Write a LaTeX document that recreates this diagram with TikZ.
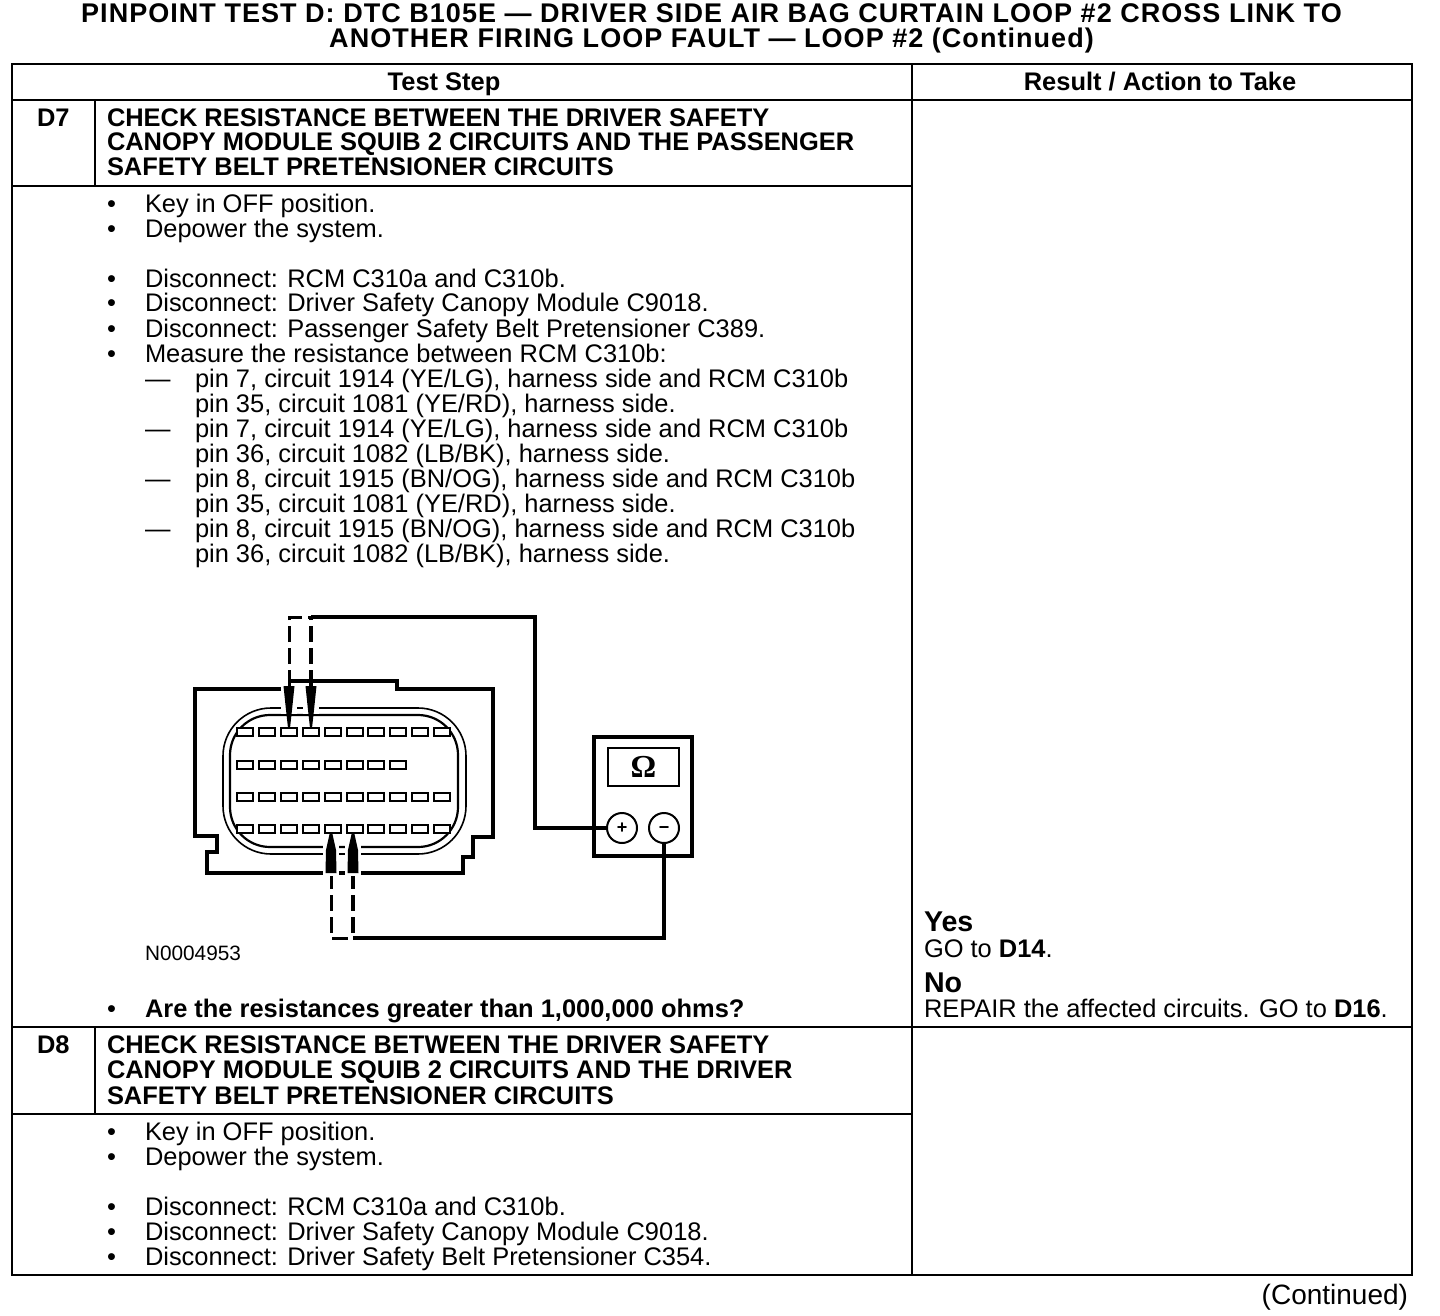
\documentclass[tikz,border=0pt]{standalone}
\usepackage{fontspec}
\setmainfont{Liberation Sans}
\newfontfamily\omegafont{Liberation Serif}
\newfontfamily\ttlfont[LetterSpace=3.85]{Liberation Sans}
\newcommand{\tl}[4]{\node[txt] (#1) at (#2,#3) {#4};}
\newcommand{\bl}[4]{\node[txt] (#1b) at (107,#3) {•}; \node[txt] (#1) at (#2,#3) {#4};}
\newcommand{\dl}[3]{\node[txt] (#1d) at (145,#2) {—}; \node[txt] (#1) at (195,#2) {#3};}
\begin{document}
\begin{tikzpicture}[x=0.5pt,y=-0.5pt,
 txt/.style={anchor=base west,inner sep=0,outer sep=0,font=\fontsize{12.72}{14}\selectfont},
 hd/.style={txt,font=\fontsize{12.72}{14}\selectfont\bfseries},
 ttl/.style={anchor=base,inner sep=0,font=\ttlfont\fontsize{13.5}{14}\selectfont\bfseries},
 big/.style={txt,font=\fontsize{14.3}{14}\selectfont\bfseries},
 grid/.style={line width=1pt,black},
 wire/.style={line width=1.6pt,black},
 dwire/.style={line width=1.5pt,black,dash pattern=on 8pt off 3pt},
 dwireb/.style={line width=2pt,black,dash pattern=on 8pt off 3pt},
 ring/.style={line width=0.8pt,black},
 slot/.style={line width=1pt,black,fill=white},
 term/.style={circle,draw=black,line width=1pt,fill=white,minimum size=15pt,inner sep=0,font=\fontsize{9}{9}\selectfont\bfseries}]
\useasboundingbox (0,0) rectangle (1440,1316);
\fill[white] (0,0) rectangle (1440,1316);
% table
\draw[grid] (12,64) rectangle (1412,1275);
\draw[grid] (12,100) -- (1412,100);
\draw[grid] (912,64) -- (912,1275);
\draw[grid] (95,100) -- (95,186);
\draw[grid] (12,186) -- (912,186);
\draw[grid] (12,1027) -- (1412,1027);
\draw[grid] (95,1027) -- (95,1114);
\draw[grid] (12,1114) -- (912,1114);
% title
\node[ttl] (t1) at (711.5,23) {PINPOINT TEST D: DTC B105E — DRIVER SIDE AIR BAG CURTAIN LOOP \#2 CROSS LINK TO};
\node[ttl] (t2) at (711.5,48) {ANOTHER FIRING LOOP FAULT — LOOP \#2 (Continued)};
\node[hd,anchor=base] (h1) at (444,91) {Test Step};
\node[hd,anchor=base] (h2) at (1160,91) {Result / Action to Take};
% D7
\node[hd] (d7) at (37,127) {D7};
\node[hd] (d7a) at (107,127) {CHECK RESISTANCE BETWEEN THE DRIVER SAFETY};
\node[hd] (d7b) at (107,151) {CANOPY MODULE SQUIB 2 CIRCUITS AND THE PASSENGER};
\node[hd] (d7c) at (107,176) {SAFETY BELT PRETENSIONER CIRCUITS};
\bl{a1}{145}{213}{Key in OFF position.}
\bl{a2}{145}{238}{Depower the system.}
\bl{a3}{145}{287}{Disconnect: RCM C310a and C310b.}
\bl{a4}{145}{312}{Disconnect: Driver Safety Canopy Module C9018.}
\bl{a5}{145}{337}{Disconnect: Passenger Safety Belt Pretensioner C389.}
\bl{a6}{145}{362}{Measure the resistance between RCM C310b:}
\dl{m1}{387}{pin 7, circuit 1914 (YE/LG), harness side and RCM C310b}
\tl{m1x}{195}{412}{pin 35, circuit 1081 (YE/RD), harness side.}
\dl{m2}{437}{pin 7, circuit 1914 (YE/LG), harness side and RCM C310b}
\tl{m2x}{195}{462}{pin 36, circuit 1082 (LB/BK), harness side.}
\dl{m3}{487}{pin 8, circuit 1915 (BN/OG), harness side and RCM C310b}
\tl{m3x}{195}{512}{pin 35, circuit 1081 (YE/RD), harness side.}
\dl{m4}{537}{pin 8, circuit 1915 (BN/OG), harness side and RCM C310b}
\tl{m4x}{195}{562}{pin 36, circuit 1082 (LB/BK), harness side.}
\node[txt,font=\fontsize{10.4}{12}\selectfont] (code) at (145,960) {N0004953};
\node[txt] (qb) at (107,1017) {•};
\node[hd] (q) at (145,1017) {Are the resistances greater than 1,000,000 ohms?};
\node[big] (yes) at (924,931) {Yes};
\node[txt] (go1) at (924,957) {GO to \textbf{D14}.};
\node[big] (no) at (924,992) {No};
\node[txt] (rep) at (924,1017) {REPAIR the affected circuits. GO to \textbf{D16}.};
% D8
\node[hd] (d8) at (37,1053) {D8};
\node[hd] (d8a) at (107,1053) {CHECK RESISTANCE BETWEEN THE DRIVER SAFETY};
\node[hd] (d8b) at (107,1078) {CANOPY MODULE SQUIB 2 CIRCUITS AND THE DRIVER};
\node[hd] (d8c) at (107,1104) {SAFETY BELT PRETENSIONER CIRCUITS};
\bl{c1}{145}{1140}{Key in OFF position.}
\bl{c2}{145}{1165}{Depower the system.}
\bl{c3}{145}{1215}{Disconnect: RCM C310a and C310b.}
\bl{c4}{145}{1240}{Disconnect: Driver Safety Canopy Module C9018.}
\bl{c5}{145}{1265}{Disconnect: Driver Safety Belt Pretensioner C354.}
\node[txt,anchor=base east,font=\fontsize{14}{14}\selectfont] (cont) at (1408,1304) {(Continued)};
% connector
\draw[wire] (288,681) -- (397,681) -- (397,689) -- (493,689) -- (493,837) -- (473,837) -- (473,857) -- (463,857) -- (463,873) -- (207,873) -- (207,852) -- (217,852) -- (217,836) -- (195,836) -- (195,689) -- (288,689);
\draw[ring,rounded corners=24pt] (223,708) rectangle (466,854);
\draw[line width=1.1pt,black,rounded corners=20pt] (230,715) rectangle (458,847);
\foreach \i in {0,...,9} {
 \draw[slot] ({237+21.9*\i},728) rectangle ++(16,8);
 \draw[slot] ({237+21.9*\i},793) rectangle ++(16,8);
 \draw[slot] ({237+21.9*\i},825) rectangle ++(16,8);
}
\foreach \i in {0,...,7} \draw[slot] ({237+21.9*\i},761) rectangle ++(16,8);
% meter
\draw[line width=1.6pt] (594,737) rectangle (692,856);
\node[draw,line width=1pt,minimum width=35.5pt,minimum height=19pt,inner sep=0,font=\omegafont\fontsize{16}{16}\selectfont\bfseries] (disp) at (643.5,767) {Ω};
\node[term] (plus) at (622,828) {+};
\node[term] (minus) at (664,828) {\vphantom{+}−};
% wires
\coordinate (pa) at (289,686); \coordinate (pb) at (311,686);
\coordinate (qa) at (331,873); \coordinate (qb2) at (353,873);
\coordinate (ta) at (289,617); \coordinate (tb) at (311,617);
\coordinate (ba) at (331,938); \coordinate (bc) at (353,938);
\draw[dwire] (pa) -- (ta) -- (tb);
\draw[dwireb] (pb) -- (tb);
\draw[wire] (tb) -- (535,617) |- (plus.west);
\draw[dwire] (qa) -- (ba) -- (bc);
\draw[dwireb] (qb2) -- (bc);
\draw[wire] (bc) -| (minus.south);
% probes
\foreach \x in {289,311} {
 \fill[white] (\x-8,686) rectangle (\x+8,714);
 \fill[black] (\x-5.5,686) -- (\x+5.5,686) -- (\x+3,710) -- (\x+1,728) -- (\x-1,728) -- (\x-3,710) -- cycle;
}
\foreach \x in {331,353} {
 \fill[white] (\x-8,845) rectangle (\x+8,876);
 \fill[black] (\x-5.5,873) -- (\x+5.5,873) -- (\x+5,850) -- (\x+1,832) -- (\x-1,832) -- (\x-5,850) -- cycle;
}
\end{tikzpicture}
\end{document}
